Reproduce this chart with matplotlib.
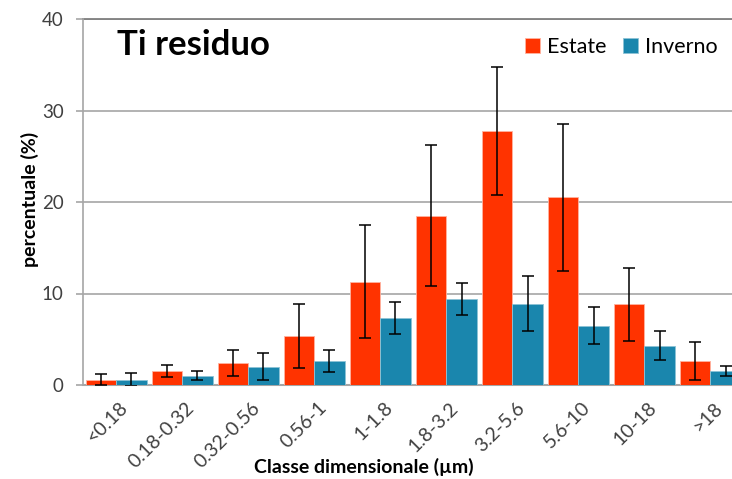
import matplotlib
matplotlib.use("Agg")
import matplotlib.pyplot as plt
import numpy as np

categories = ["<0.18", "0.18-0.32", "0.32-0.56", "0.56-1", "1-1.8", "1.8-3.2",
              "3.2-5.6", "5.6-10", "10-18", ">18"]
estate = [0.6, 1.5, 2.4, 5.4, 11.3, 18.5, 27.8, 20.5, 8.8, 2.6]
estate_err = [0.6, 0.65, 1.4, 3.5, 6.2, 7.7, 7.0, 8.0, 4.0, 2.05]
inverno = [0.6, 1.0, 2.0, 2.6, 7.3, 9.4, 8.9, 6.5, 4.3, 1.5]
inverno_err = [0.7, 0.5, 1.5, 1.2, 1.75, 1.7, 3.0, 2.0, 1.55, 0.53]
yticks = [0, 10, 20, 30, 40]

plt.rcParams['font.family'] = ['Lato', 'DejaVu Sans']

W, H = 732, 479
fig = plt.figure(figsize=(W / 100, H / 100), dpi=100)
ax = fig.add_axes([83 / W, (H - 385) / H, (743.5 - 83) / W, (385 - 19) / H])

x = np.arange(len(categories))
bw = 0.462
red = "#FF3300"
blue = "#1A86AD"
err_kw = dict(ecolor="black", elinewidth=1.1, capsize=4, capthick=1.1)
ax.bar(x - bw / 2, estate, bw, color=red, edgecolor="#ffb3a0", linewidth=0.6,
       yerr=estate_err, error_kw=err_kw, label="Estate", zorder=3)
ax.bar(x + bw / 2, inverno, bw, color=blue, edgecolor="#8cc3d6", linewidth=0.6,
       yerr=inverno_err, error_kw=err_kw, label="Inverno", zorder=3)

ax.set_xlim(-0.5, len(categories) - 0.5)
ax.set_ylim(0, 40)
ax.set_yticks(yticks)
ax.set_yticklabels([str(v) for v in yticks], fontsize=13.5, color="#404040")
ax.yaxis.grid(True, color="#a6a6a6", linewidth=1.2, zorder=0)
ax.set_axisbelow(True)
for s in ["top", "right"]:
    ax.spines[s].set_visible(False)
ax.spines["left"].set_color("#a6a6a6")
ax.spines["bottom"].set_color("#a6a6a6")
ax.spines["left"].set_linewidth(1.2)
ax.spines["bottom"].set_linewidth(1.5)
ax.tick_params(axis="y", length=5, color="#a6a6a6", width=1.2, pad=9)
ax.tick_params(axis="x", length=0, pad=10)
ax.set_xticks(x + 0.05)
ax.set_xticklabels(categories, rotation=45, ha="right", rotation_mode="anchor",
                   fontsize=14, color="#404040")
ax.axhline(40, color="#7f7f7f", linewidth=1.3, zorder=1, clip_on=False)

fig.text(117 / W, (H - 45) / H, "Ti residuo", fontsize=25, fontweight="bold",
         va="center", ha="left")
fig.text(30 / W, (H - 199) / H, "percentuale (%)", fontsize=14, fontweight="bold",
         rotation=90, va="center", ha="center")
fig.text(364 / W, (H - 467) / H, "Classe dimensionale (µm)", fontsize=14,
         fontweight="bold", va="center", ha="center")

leg = ax.legend(loc="upper right", bbox_to_anchor=(726 / W, (H - 28) / H),
                bbox_transform=fig.transFigure, ncol=2, frameon=False,
                fontsize=15.5, handlelength=0.7, handleheight=0.7,
                handletextpad=0.3, columnspacing=0.8, borderaxespad=0)

fig.savefig("out.png", dpi=100)
